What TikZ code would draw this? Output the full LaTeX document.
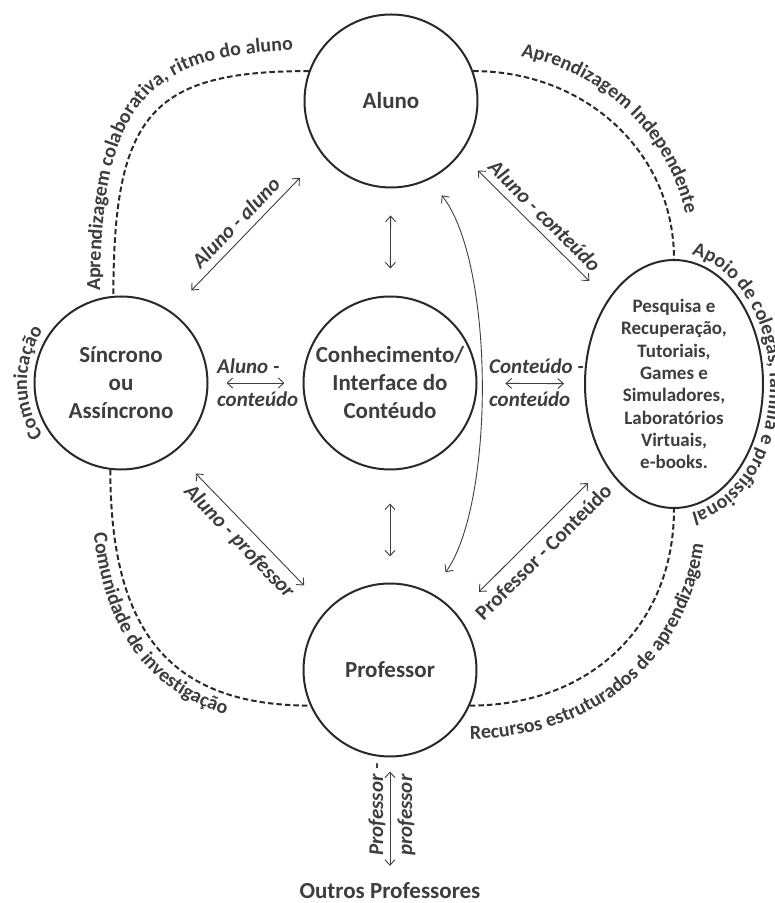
\documentclass[tikz,border=0pt]{standalone}
\usepackage{fontspec}
\setmainfont{Carlito}
\usepackage{tikz}
\usetikzlibrary{shapes,arrows.meta,decorations.text}

\definecolor{txt}{gray}{0.24}
\definecolor{ink}{gray}{0.16}

\begin{document}
\begin{tikzpicture}[
    x=1pt, y=1pt,
    every node/.style={text=txt},
    actor/.style={circle, draw=ink, line width=2pt, minimum size=173pt, inner sep=0pt,
      align=center, font=\bfseries\fontsize{23}{28}\selectfont},
    lab/.style={inner sep=1pt, font=\bfseries\itshape\fontsize{21}{25}\selectfont},
    link/.style={draw=ink!90, line width=0.9pt,
      {Straight Barb[length=5.5pt,width=10pt]}-{Straight Barb[length=5.5pt,width=10pt]}},
    route/.style={draw=ink, line width=2pt, dash pattern=on 5.5pt off 3pt},
    along/.style={decorate, decoration={text along path, text color=txt,
      text={|\bfseries\fontsize{20}{24}\selectfont|#1}}}
    ]

    \useasboundingbox (0,0) rectangle (775,903);

    \node[actor] (aluno) at (391,802) {Aluno};
    \node[actor] (sinc) at (121,520) {Síncrono\\ou\\Assíncrono};
    \node[actor] (conh) at (390,520) {Conhecimento/\\Interface do\\Contéudo};
    \node[actor] (prof) at (390,233) {Professor};
    \node[ellipse, draw=ink, line width=2pt, minimum width=178pt, minimum height=248pt,
      inner sep=0pt, align=center, font=\bfseries\fontsize{19}{22.3}\selectfont] (midia) at (674,519)
      {Pesquisa e\\Recuperação,\\Tutoriais,\\Games e\\Simuladores,\\Laboratórios\\Virtuais,\\e-books.};
    \node[inner sep=1pt, anchor=base, font=\bfseries\fontsize{23}{28}\selectfont] (outros) at (390,5) {Outros Professores};

    \draw[route] (aluno.160) .. controls +(-158,0) and +(0,181) .. (sinc.95);
    \draw[route] (aluno.20) .. controls +(113,0) and +(0,106) .. (midia.north);
    \draw[route] (sinc.263) .. controls +(0,-163) and +(-139,0) .. (prof.204);
    \draw[route] (prof.336) .. controls +(121,0) and +(0,-116) .. (midia.south);

    \draw[link, shorten <=29pt, shorten >=32pt] (sinc.55) -- (aluno.218)
      node[lab, midway, sloped, above=6pt] (aa) {Aluno - aluno};
    \draw[link, shorten <=24pt, shorten >=26pt] (aluno.323) -- (midia.128)
      node[lab, midway, sloped, above=6pt] (ac) {Aluno - conteúdo};
    \draw[link, shorten <=30pt, shorten >=33pt] (sinc.308) -- (prof.136)
      node[lab, midway, sloped, below=6pt] (ap) {Aluno - professor};
    \draw[link, shorten <=31pt, shorten >=25pt] (prof.40) -- (midia.230)
      node[lab, midway, sloped, below=8pt, font=\bfseries\fontsize{21}{25}\selectfont] (pc) {Professor - Conteúdo};

    \draw[link, shorten <=27pt, shorten >=27pt] (aluno) -- (conh);
    \draw[link, shorten <=18pt, shorten >=18pt] (sinc) -- (conh);
    \draw[link, shorten <=28pt, shorten >=20pt] (conh) -- (midia);
    \draw[link, shorten <=33pt, shorten >=26pt] (conh) -- (prof);
    \draw[link, shorten <=14pt, shorten >=15pt] (prof) -- (outros);
    \draw[link, shorten <=25pt, shorten >=20pt] (prof.62) .. controls (495,400) and (495,640) .. (aluno.296);

    \node[lab, anchor=base west] (alc1) at (216,529) {Aluno -};
    \node[lab, anchor=base west] (alc2) at (216,496) {conteúdo};
    \node[lab, anchor=base west] (cc1) at (488,529) {Conteúdo -};
    \node[lab, anchor=base west] (cc2) at (488,496) {conteúdo};
    \node[lab, rotate=90, anchor=base west] (pp1) at (383,46) {Professor -};
    \node[lab, rotate=90, anchor=base west] (pp2) at (412,46) {professor};

    \path[along={Aprendizagem colaborativa, ritmo do aluno}, decoration={text align={left indent=9pt}}]
      (100,603) .. controls +(0,200) and +(-176,0) .. (320,853);
    \path[along={Aprendizagem Independente}, decoration={text align=center}]
      (477,851) .. controls +(119,0) and +(0,115) .. (690,645);
    \path[along={Comunidade de investigação}, decoration={text align={left indent=65pt}}]
      (90,434) .. controls +(0,-177) and +(-152,0) .. (311,178);
    \path[along={Recursos estruturados de aprendizagem}, decoration={text align={left indent=2pt}}]
      (468,164) .. controls +(140,0) and +(0,-136) .. (706,395);
    \path[along={Apoio de colegas, família e profissional}, decoration={text align=center}]
      (674,650) arc[start angle=90, end angle=-90, x radius=96pt, y radius=131pt];
    \path[along={Comunicação}, decoration={text align=center}]
      (49,459.6) arc[start angle=220, end angle=140, radius=94pt];

\end{tikzpicture}
\end{document}
